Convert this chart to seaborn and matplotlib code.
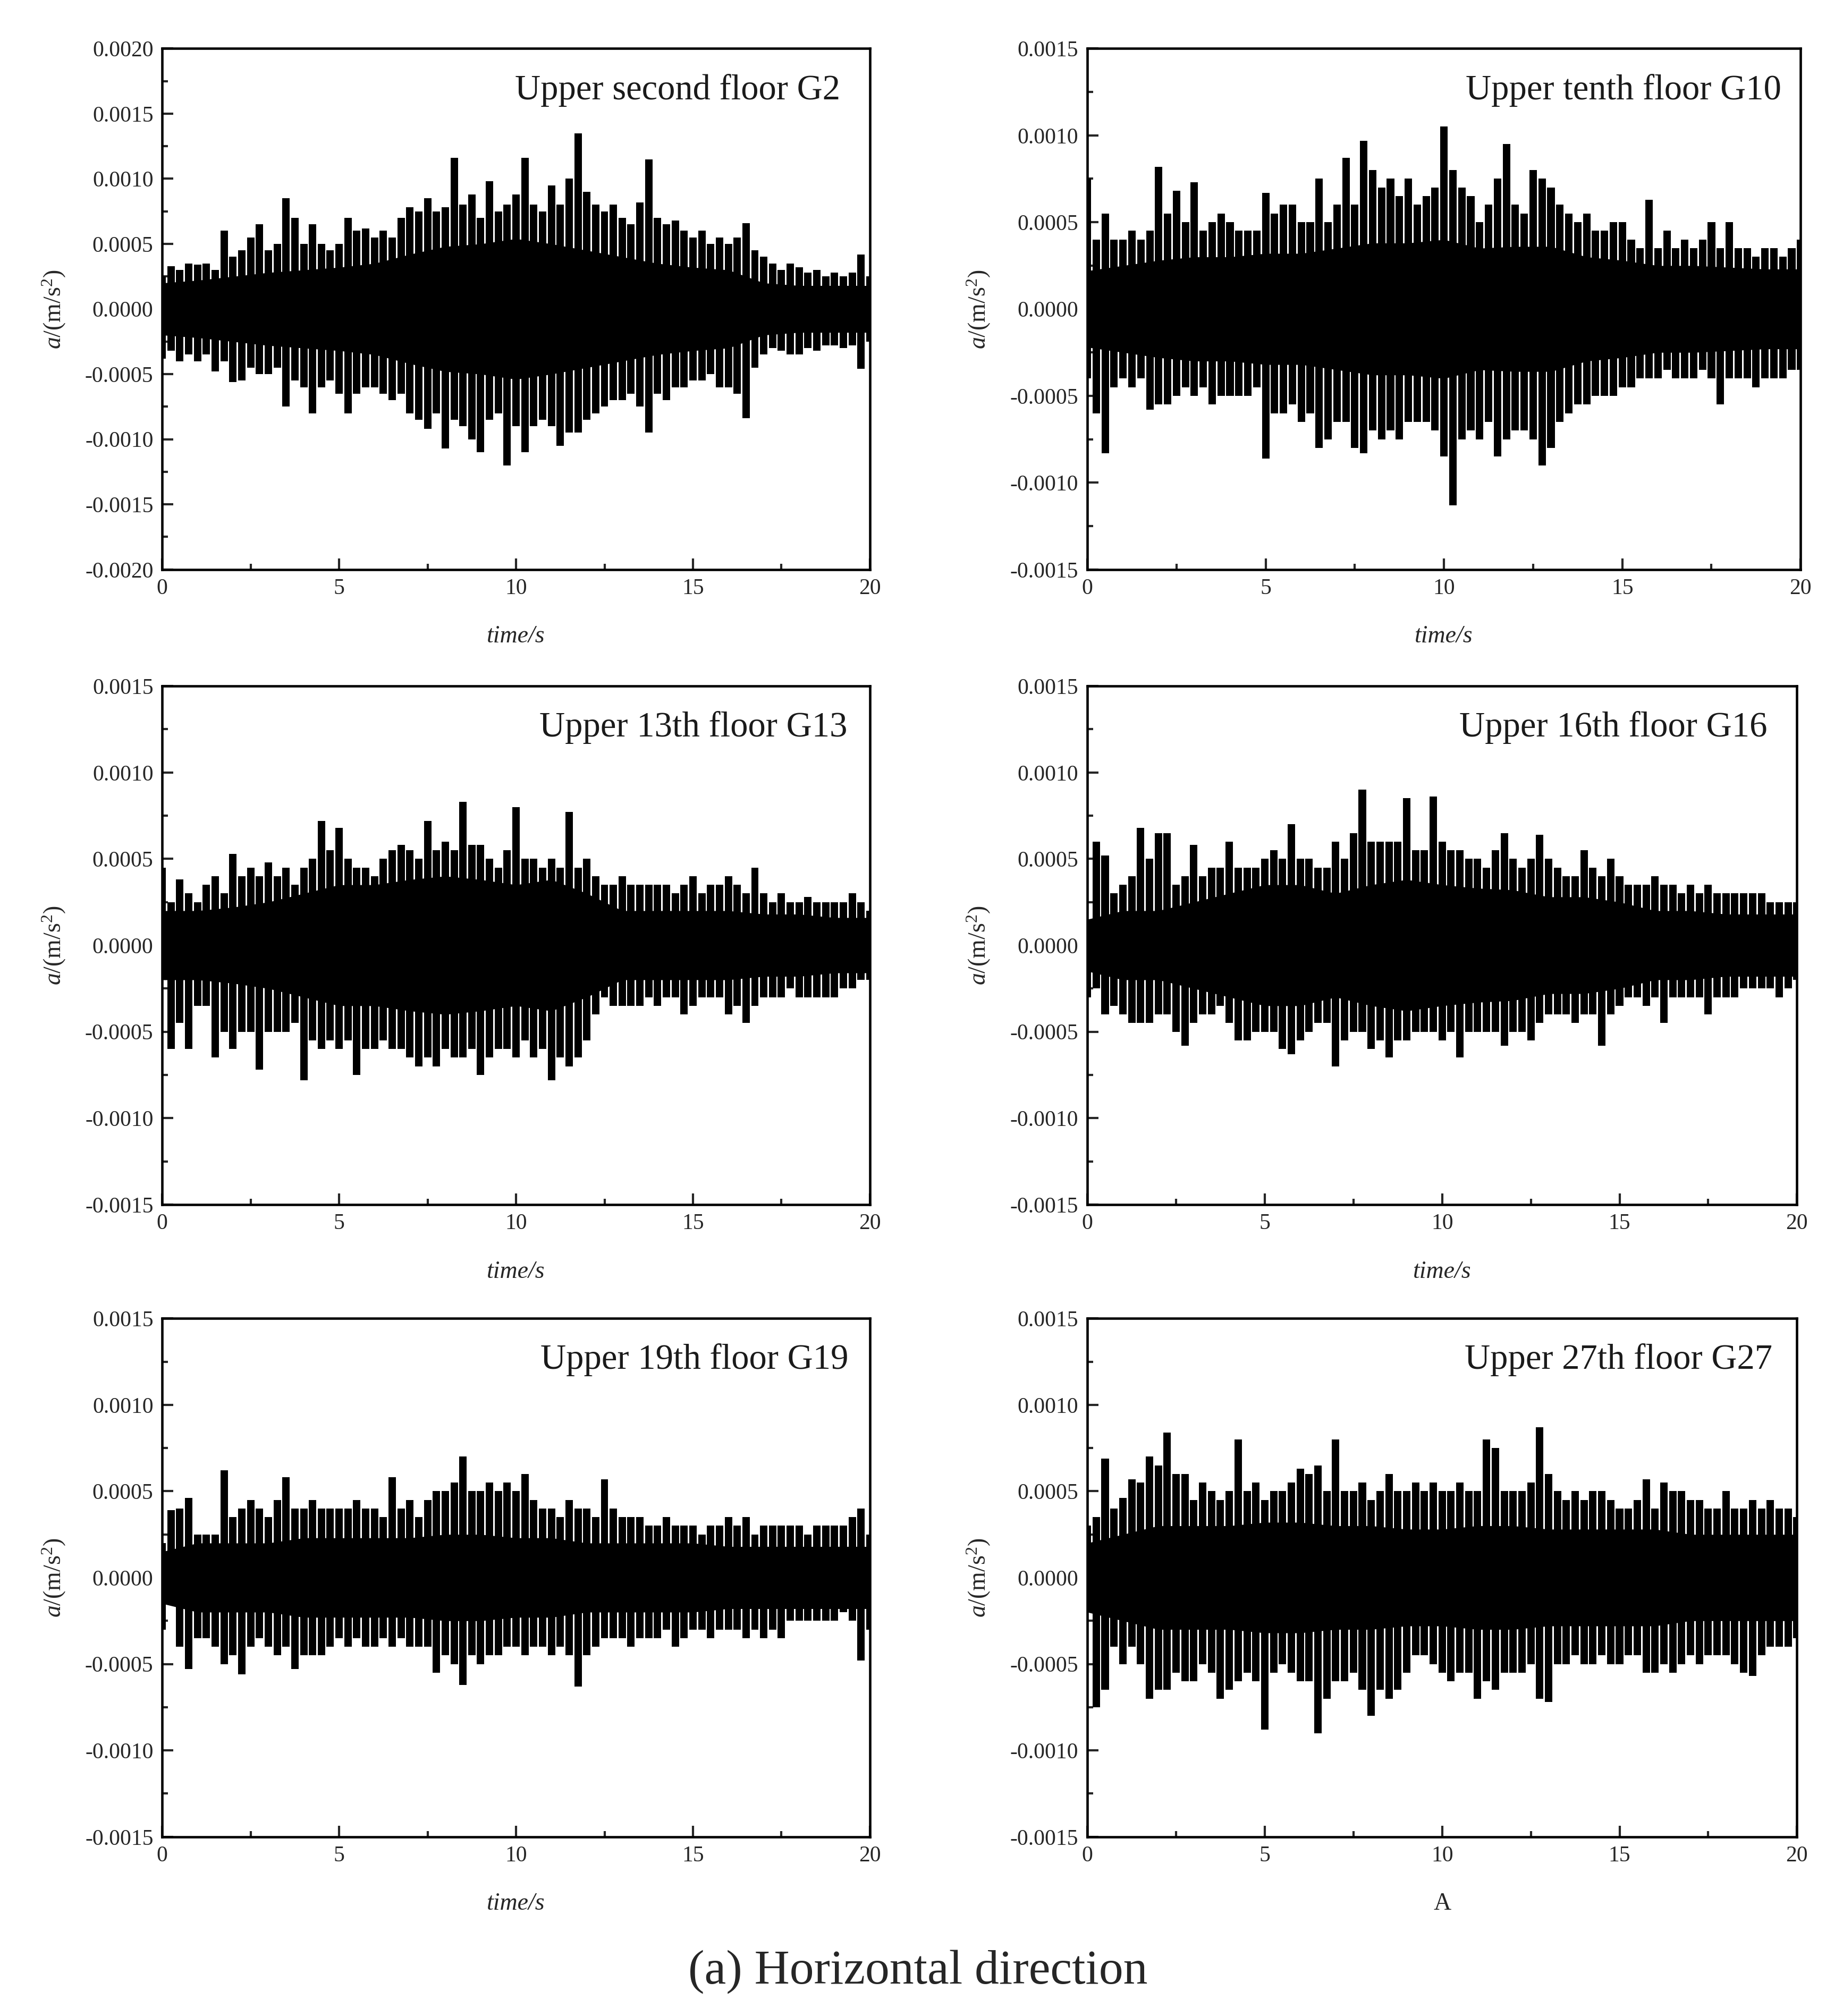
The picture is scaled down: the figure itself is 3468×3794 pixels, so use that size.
import matplotlib
matplotlib.use("Agg")
import matplotlib.pyplot as plt
import numpy as np
import pandas as pd
import seaborn as sns
from matplotlib.ticker import MultipleLocator, FuncFormatter

# envelope, units of 1e-4 m/s^2
# top / bot sampled every 0.25 s, core (solid band half width) every 1 s
SCALE = 1e-4
t_env = np.arange(0, 20.01, 0.25)
t_core = np.arange(0, 21, 1)

g2_top = [2.5, 3.3, 3.0, 3.5, 3.4, 3.5, 3.0, 6.0,
          4.0, 4.5, 5.5, 6.5, 4.5, 5.0, 8.5, 7.0,
          5.0, 6.5, 5.0, 4.5, 5.0, 7.0, 6.0, 6.2,
          5.5, 6.0, 5.5, 7.0, 7.8, 7.5, 8.5, 7.5,
          7.8, 11.6, 8.0, 8.8, 7.0, 9.8, 7.5, 8.0,
          8.8, 11.6, 8.0, 7.5, 9.5, 8.0, 10.0, 13.5,
          9.0, 8.0, 7.5, 8.0, 7.0, 6.5, 8.2, 11.5,
          7.0, 6.5, 6.8, 6.0, 5.5, 6.0, 5.0, 5.5,
          5.0, 5.5, 6.6, 4.5, 4.0, 3.5, 3.0, 3.5,
          3.2, 2.8, 3.0, 2.5, 2.8, 2.5, 2.8, 4.2,
          2.5]
g2_bot = [-3.8, -3.2, -4.0, -3.5, -4.0, -3.5, -4.8, -4.0,
          -5.6, -5.5, -4.5, -5.0, -5.0, -4.5, -7.5, -5.5,
          -6.0, -8.0, -6.0, -5.5, -6.5, -8.0, -6.5, -6.0,
          -6.0, -6.5, -7.0, -6.5, -8.0, -8.5, -9.2, -8.0,
          -10.7, -8.5, -9.0, -10.0, -11.0, -8.5, -8.0, -12.0,
          -9.0, -11.0, -9.0, -8.5, -9.0, -10.5, -9.5, -9.5,
          -8.5, -8.0, -7.5, -7.0, -7.0, -6.5, -7.5, -9.5,
          -6.5, -7.0, -6.0, -6.0, -5.5, -5.5, -5.0, -6.0,
          -6.0, -6.5, -8.4, -4.5, -3.5, -3.0, -3.2, -3.5,
          -3.5, -3.0, -3.2, -2.8, -2.8, -3.0, -2.8, -4.6,
          -2.5]
g2_core = [2.0, 2.2, 2.5, 2.8, 3.0, 3.2, 3.5, 4.2, 4.8, 5.0, 5.4,
           5.0, 4.5, 4.0, 3.5, 3.2, 3.0, 2.0, 1.8, 1.8, 1.8]

g10_top = [7.5, 4.0, 5.5, 4.0, 4.0, 4.5, 4.0, 4.5,
           8.2, 5.5, 6.8, 5.0, 7.3, 4.5, 5.0, 5.5,
           5.0, 4.5, 4.5, 4.5, 6.7, 5.5, 6.0, 6.0,
           5.0, 5.0, 7.5, 5.0, 6.0, 8.7, 6.0, 9.7,
           8.0, 7.0, 7.5, 6.5, 7.5, 6.0, 6.5, 7.0,
           10.5, 8.0, 7.0, 6.5, 5.0, 6.0, 7.5, 9.5,
           6.0, 5.5, 8.0, 7.5, 7.0, 6.0, 5.5, 5.0,
           5.5, 4.5, 4.5, 5.0, 5.0, 4.0, 3.5, 6.3,
           3.5, 4.5, 3.5, 4.0, 3.5, 4.0, 5.0, 3.5,
           5.0, 3.5, 3.5, 3.0, 3.5, 3.5, 3.0, 3.5,
           4.0]
g10_bot = [-4.0, -6.0, -8.3, -4.5, -4.0, -4.5, -4.0, -5.8,
           -5.5, -5.5, -5.0, -4.5, -5.0, -4.5, -5.5, -5.0,
           -5.0, -5.0, -5.0, -4.5, -8.6, -6.0, -6.0, -5.5,
           -6.5, -6.0, -8.0, -7.5, -6.5, -6.5, -8.0, -8.3,
           -7.0, -7.5, -7.0, -7.5, -6.5, -6.5, -6.5, -7.0,
           -8.5, -11.3, -7.5, -7.0, -7.5, -6.5, -8.5, -7.5,
           -7.0, -7.0, -7.5, -9.0, -8.0, -6.5, -6.0, -5.5,
           -5.5, -5.0, -5.0, -5.0, -4.5, -4.5, -4.0, -4.0,
           -4.0, -3.5, -4.0, -4.0, -4.0, -3.5, -4.0, -5.5,
           -4.0, -4.0, -4.0, -4.5, -4.0, -4.0, -4.0, -3.5,
           -3.5]
g10_core = [2.2, 2.5, 2.8, 3.0, 3.0, 3.2, 3.2, 3.5, 3.8, 3.8, 4.0,
            3.5, 3.6, 3.6, 3.0, 2.8, 2.5, 2.5, 2.4, 2.3, 2.3]

g13_top = [4.5, 2.5, 3.8, 3.0, 2.5, 3.5, 4.0, 3.0,
           5.3, 4.0, 4.5, 4.0, 4.8, 4.0, 4.5, 3.5,
           4.5, 5.0, 7.2, 5.5, 6.8, 5.0, 4.5, 4.5,
           4.0, 5.0, 5.5, 5.8, 5.5, 5.0, 7.2, 5.5,
           6.0, 5.5, 8.3, 5.8, 5.8, 5.0, 4.5, 5.5,
           8.0, 5.0, 5.0, 4.5, 5.0, 4.5, 7.7, 4.5,
           5.0, 4.0, 3.5, 3.5, 4.0, 3.5, 3.5, 3.5,
           3.5, 3.5, 3.0, 3.5, 4.0, 3.0, 3.5, 3.5,
           4.0, 3.5, 3.0, 4.5, 3.0, 2.5, 3.0, 2.5,
           2.5, 2.8, 2.5, 2.5, 2.5, 2.5, 3.0, 2.5,
           2.0]
g13_bot = [-2.0, -6.0, -4.5, -6.0, -3.5, -3.5, -6.5, -5.0,
           -6.0, -5.0, -5.0, -7.2, -5.0, -5.0, -5.0, -4.5,
           -7.8, -5.5, -6.0, -5.5, -6.0, -5.5, -7.5, -6.0,
           -6.0, -5.5, -6.0, -6.0, -6.5, -7.0, -6.5, -7.0,
           -6.0, -6.5, -6.5, -6.0, -7.5, -6.5, -6.0, -6.0,
           -6.5, -5.5, -6.5, -6.0, -7.8, -6.5, -7.0, -6.5,
           -5.5, -4.0, -3.0, -3.5, -3.5, -3.5, -3.5, -3.0,
           -3.5, -3.0, -3.0, -4.0, -3.5, -3.0, -3.0, -3.0,
           -4.0, -3.5, -4.5, -3.5, -3.0, -3.0, -3.0, -2.5,
           -3.0, -3.0, -3.0, -3.0, -3.0, -2.5, -2.5, -2.0,
           -2.0]
g13_core = [2.0, 2.0, 2.2, 2.5, 3.0, 3.5, 3.5, 3.8, 4.0, 3.8, 3.5,
            3.8, 3.0, 2.0, 2.0, 2.0, 2.0, 1.8, 1.8, 1.6, 1.6]

g16_top = [1.5, 6.0, 5.2, 3.0, 3.5, 4.0, 6.8, 5.0,
           6.5, 6.5, 3.5, 4.0, 5.8, 4.0, 4.5, 4.5,
           6.0, 4.5, 4.5, 4.5, 5.0, 5.5, 5.0, 7.0,
           5.0, 5.0, 4.5, 4.5, 6.0, 5.0, 6.5, 9.0,
           6.0, 6.0, 6.0, 6.0, 8.5, 5.5, 5.5, 8.6,
           6.0, 5.5, 5.5, 5.0, 5.0, 4.5, 5.5, 6.5,
           5.0, 4.5, 5.0, 6.4, 5.0, 4.5, 4.0, 4.0,
           5.5, 4.5, 4.0, 5.0, 4.0, 3.5, 3.5, 3.5,
           4.0, 3.5, 3.5, 3.0, 3.5, 3.0, 3.5, 3.0,
           3.0, 3.0, 3.0, 3.0, 3.0, 2.5, 2.5, 2.5,
           2.5]
g16_bot = [-3.0, -2.5, -4.0, -3.5, -4.0, -4.5, -4.5, -4.5,
           -4.0, -4.0, -5.0, -5.8, -4.5, -4.0, -4.0, -3.5,
           -4.5, -5.5, -5.5, -5.0, -5.0, -5.0, -6.0, -6.3,
           -5.5, -5.0, -4.5, -4.5, -7.0, -5.5, -5.0, -5.0,
           -6.0, -5.5, -6.5, -5.5, -5.5, -5.0, -5.0, -5.0,
           -5.5, -5.0, -6.5, -5.0, -5.0, -5.0, -5.0, -5.8,
           -5.0, -5.0, -5.5, -4.5, -4.0, -4.0, -4.0, -4.5,
           -4.0, -4.0, -5.8, -4.0, -3.5, -3.0, -3.0, -3.5,
           -3.0, -4.5, -3.0, -3.0, -3.0, -3.0, -4.0, -3.0,
           -3.0, -3.0, -2.5, -2.5, -2.5, -2.5, -3.0, -2.5,
           -2.0]
g16_core = [1.5, 2.0, 2.0, 2.5, 3.0, 3.5, 3.5, 3.0, 3.5, 3.8, 3.5,
            3.3, 3.2, 2.8, 2.8, 2.5, 2.0, 2.0, 1.8, 1.8, 1.8]

g19_top = [2.0, 3.9, 4.0, 4.6, 2.5, 2.5, 2.5, 6.2,
           3.5, 4.0, 4.5, 4.0, 3.5, 4.5, 5.8, 4.0,
           4.0, 4.5, 4.0, 4.0, 4.0, 4.0, 4.5, 4.0,
           4.0, 3.5, 5.8, 4.0, 4.5, 3.5, 4.5, 5.0,
           5.0, 5.5, 7.0, 5.0, 5.0, 5.5, 5.0, 5.5,
           5.0, 6.0, 4.5, 4.0, 4.0, 3.5, 4.5, 4.0,
           4.0, 3.5, 5.7, 4.0, 3.5, 3.5, 3.5, 3.0,
           3.0, 3.5, 3.0, 3.0, 3.0, 2.5, 3.0, 3.0,
           3.5, 3.0, 3.5, 2.5, 3.0, 3.0, 3.0, 3.0,
           3.0, 2.5, 3.0, 3.0, 3.0, 3.0, 3.5, 4.0,
           2.5]
g19_bot = [-3.0, -1.5, -4.0, -5.3, -3.5, -3.5, -4.0, -5.0,
           -4.5, -5.6, -4.0, -3.5, -4.0, -4.5, -4.0, -5.3,
           -4.5, -4.5, -4.5, -4.0, -3.5, -4.0, -3.5, -4.0,
           -4.0, -3.5, -4.0, -3.5, -4.0, -4.0, -4.0, -5.5,
           -4.5, -5.0, -6.2, -4.5, -5.0, -4.5, -4.5, -4.0,
           -4.0, -4.5, -4.0, -4.0, -4.5, -4.0, -4.5, -6.3,
           -4.5, -4.0, -3.5, -3.5, -3.5, -4.0, -3.5, -3.5,
           -3.5, -3.0, -4.0, -3.5, -3.0, -3.0, -3.5, -3.0,
           -3.0, -3.0, -3.5, -3.0, -3.5, -3.0, -3.5, -2.5,
           -2.5, -2.5, -2.5, -2.5, -2.5, -2.0, -2.5, -4.8,
           -3.0]
g19_core = [1.5, 2.0, 2.0, 2.0, 2.3, 2.3, 2.3, 2.3, 2.5, 2.5, 2.3,
            2.3, 2.0, 2.0, 2.0, 2.0, 1.8, 1.8, 1.8, 1.8, 1.8]

g27_top = [3.0, 3.5, 6.9, 4.0, 4.6, 5.7, 5.5, 7.0,
           6.5, 8.4, 6.0, 6.0, 4.5, 5.5, 5.0, 4.5,
           5.0, 8.0, 5.0, 5.5, 4.5, 5.0, 5.0, 5.5,
           6.3, 6.0, 6.5, 5.0, 8.0, 5.0, 5.0, 5.5,
           4.5, 5.0, 6.0, 5.0, 5.0, 5.5, 5.0, 5.5,
           5.0, 5.0, 5.5, 5.0, 5.0, 8.0, 7.5, 5.0,
           5.0, 5.0, 5.5, 8.7, 6.0, 5.0, 4.5, 5.0,
           4.5, 5.0, 5.0, 4.5, 4.0, 4.0, 4.5, 5.7,
           4.0, 5.5, 5.0, 5.0, 4.5, 4.5, 4.0, 4.0,
           5.0, 4.0, 4.0, 4.5, 4.0, 4.5, 4.0, 4.0,
           3.5]
g27_bot = [-2.0, -7.5, -6.5, -4.0, -5.0, -4.0, -5.0, -7.0,
           -6.5, -6.5, -5.5, -6.0, -6.0, -5.0, -5.5, -7.0,
           -6.5, -6.0, -5.5, -6.0, -8.8, -5.5, -5.0, -5.5,
           -6.0, -6.0, -9.0, -7.0, -6.0, -6.0, -5.5, -6.5,
           -8.0, -6.5, -7.0, -6.5, -5.5, -4.5, -4.5, -5.0,
           -5.5, -6.0, -5.5, -5.5, -7.0, -6.0, -6.5, -5.5,
           -5.5, -5.5, -5.0, -7.0, -7.2, -5.0, -5.0, -4.5,
           -5.0, -5.0, -4.5, -5.0, -5.0, -4.5, -4.5, -5.5,
           -5.5, -5.0, -5.5, -5.0, -4.5, -5.0, -4.5, -4.5,
           -4.5, -5.0, -5.5, -5.7, -4.5, -4.0, -4.0, -4.0,
           -3.5]
g27_core = [2.0, 2.5, 3.0, 3.0, 3.0, 3.2, 3.2, 3.0, 3.0, 2.8, 2.8,
            3.0, 3.0, 2.8, 2.8, 2.8, 2.8, 2.5, 2.5, 2.5, 2.5]

titles = ["Upper second floor G2", "Upper tenth floor G10",
          "Upper 13th floor G13", "Upper 16th floor G16",
          "Upper 19th floor G19", "Upper 27th floor G27"]
tops = [g2_top, g10_top, g13_top, g16_top, g19_top, g27_top]
bots = [g2_bot, g10_bot, g13_bot, g16_bot, g19_bot, g27_bot]
cores = [g2_core, g10_core, g13_core, g16_core, g19_core, g27_core]
ylims = [0.0020, 0.0015, 0.0015, 0.0015, 0.0015, 0.0015]
xlabels = ["time/s", "time/s", "time/s", "time/s", "time/s", "A"]

sns.set_style("ticks")
plt.rcParams["font.family"] = ["Liberation Serif", "DejaVu Serif"]
plt.rcParams["mathtext.fontset"] = "custom"
plt.rcParams["mathtext.rm"] = "Liberation Serif"
plt.rcParams["mathtext.it"] = "Liberation Serif:italic"

fig = plt.figure(figsize=(11.56, 12.647), dpi=300)

# axes boxes (left, bottom, width, height) in figure fractions
boxes = [(0.088, 0.7175, 0.384, 0.2584), (0.590, 0.7175, 0.387, 0.2584),
         (0.088, 0.4025, 0.384, 0.2572), (0.590, 0.4025, 0.385, 0.2572),
         (0.088, 0.0889, 0.384, 0.2571), (0.590, 0.0889, 0.385, 0.2571)]
title_x = [0.958, 0.973, 0.968, 0.958, 0.970, 0.965]

for i in range(6):
    ax = fig.add_axes(boxes[i])
    df = pd.DataFrame({"t": t_env,
                       "top": np.array(tops[i]) * SCALE,
                       "bot": np.array(bots[i]) * SCALE})
    core = np.array(cores[i]) * SCALE

    # dense solid band, then the ragged peaks and troughs as narrow bars
    ax.fill_between(t_core, -core, core, color="black", lw=0)
    sns.barplot(data=df, x="t", y="top", ax=ax, native_scale=True,
                width=0.84, color="black", saturation=1, errorbar=None, lw=0)
    sns.barplot(data=df, x="t", y="bot", ax=ax, native_scale=True,
                width=0.84, color="black", saturation=1, errorbar=None, lw=0)

    ax.set_xlim(0, 20)
    ax.set_ylim(-ylims[i], ylims[i])
    ax.xaxis.set_major_locator(MultipleLocator(5))
    ax.xaxis.set_minor_locator(MultipleLocator(2.5))
    ax.yaxis.set_major_locator(MultipleLocator(0.0005))
    ax.yaxis.set_minor_locator(MultipleLocator(0.00025))
    ax.yaxis.set_major_formatter(FuncFormatter(lambda v, p: "%.4f" % v if abs(v) > 1e-9 else "0.0000"))
    ax.xaxis.set_major_formatter(FuncFormatter(lambda v, p: "%d" % v))
    ax.tick_params(which="both", direction="in", top=False, right=False,
                   labelsize=10, width=1.0, pad=4)
    ax.tick_params(which="major", length=5)
    ax.tick_params(which="minor", length=2.7)
    for s in ax.spines.values():
        s.set_visible(True)
        s.set_linewidth(1.1)
        s.set_color("black")
        s.set_zorder(5)

    ax.set_ylabel(r"$a$/(m/s$^{2}$)", fontsize=11, labelpad=8)
    if xlabels[i] == "A":
        ax.set_xlabel("A", fontsize=11, labelpad=12)
    else:
        ax.set_xlabel(xlabels[i], fontsize=11, fontstyle="italic", labelpad=12)

    ax.text(title_x[i], 0.92, titles[i], transform=ax.transAxes,
            ha="right", va="center", fontsize=16, color="#1a1a1a")

fig.text(0.498, 0.022, "(a) Horizontal direction", ha="center", va="center",
         fontsize=22)

fig.savefig("out.png", dpi=300)
